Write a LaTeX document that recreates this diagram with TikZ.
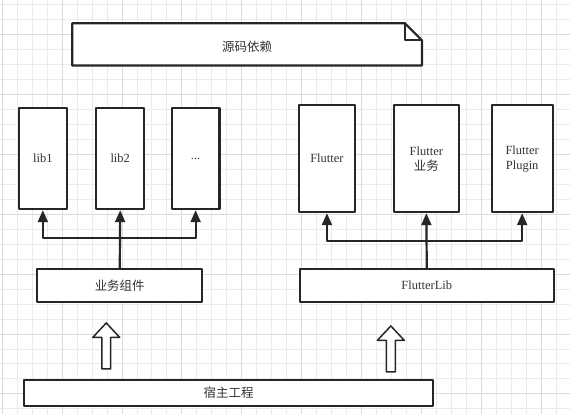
\documentclass[tikz,border=0pt]{standalone}
\usepackage{fontspec}
\setmainfont{Liberation Serif}
\newfontfamily\cjk{Noto Sans CJK SC}
\usetikzlibrary{arrows.meta}

\begin{document}
\begin{tikzpicture}[x=1pt,y=-1pt,line join=round,
    box/.style={draw=black!85,line width=2.2pt,fill=white,inner sep=0pt,
      text=black!80,font=\fontsize{12.5}{15}\selectfont,align=center},
    link/.style={draw=black!85,line width=2.2pt,-{Triangle[length=12pt,width=10pt]}}]
    % background grid
    \fill[white](0,0)rectangle(570,414);
    \foreach \x in {1.7,16.7,...,570}{%
      \draw[black!8,line width=0.8pt](\x,0)--(\x,414);
    }
    \foreach \y in {4,19,...,414}{%
      \draw[black!8,line width=0.8pt](0,\y)--(570,\y);
    }
    \foreach \x in {1.7,61.7,...,570}{%
      \draw[black!14,line width=0.8pt](\x,0)--(\x,414);
    }
    \foreach \y in {34,94,...,414}{%
      \draw[black!14,line width=0.8pt](0,\y)--(570,\y);
    }
    % source dependency note
    \node[box,draw=none,fill=none,minimum width=348pt,minimum height=40pt](src)at(247,44){};
    \draw[black!85,line width=2.2pt,fill=white](src.north west)--([xshift=-17pt]src.north east)
      --([yshift=-17pt]src.north east)--(src.south east)--(src.south west)--cycle;
    \draw[black!85,line width=2.2pt]([xshift=-17pt]src.north east)--++(0,17)--([yshift=-17pt]src.north east);
    \node[text=black!80,font=\fontsize{12.5}{15}\selectfont\cjk]at([yshift=-2pt]src){源码依赖};
    % business side
    \begin{scope}[every node/.append style={minimum width=48pt,minimum height=101pt}]
      \node[box](lib1)at(42.5,158.5){lib1};
      \node[box](lib2)at(120,158.5){lib2};
      \node[box](libn)at(195.5,158.5){...};
    \end{scope}
    \node[box,minimum width=165pt,minimum height=33pt,font=\fontsize{12.5}{15}\selectfont\cjk](biz)at(119.5,285.5){业务组件};
    \coordinate(bizj)at(biz.north|-0,238);
    \draw[link](biz.north)--(lib2.south);
    \foreach \n in {lib1,libn}{%
      \draw[link](bizj)-|(\n.south);
    }
    % flutter side
    \begin{scope}[every node/.append style={minimum height=107pt}]
      \node[box,minimum width=56pt](flt)at(327,158.5){Flutter};
      \node[box,minimum width=65pt](fltbiz)at(426.5,158.5){Flutter\\{\cjk 业务}};
      \node[box,minimum width=61pt](fltplug)at(522.5,158.5){Flutter\\Plugin};
    \end{scope}
    \node[box,minimum width=254pt,minimum height=33pt](fltlib)at(427,285.5){FlutterLib};
    \coordinate(fltj)at(fltlib.north|-0,241);
    \draw[link](fltlib.north)--(fltbiz.south);
    \foreach \n in {flt,fltplug}{%
      \draw[link](fltj)-|(\n.south);
    }
    % host project
    \node[box,minimum width=409pt,minimum height=26pt,font=\fontsize{12.5}{15}\selectfont\cjk](host)at(228.5,393){宿主工程};
    \foreach \x/\y in {106/323,391/326}{%
      \draw[black!85,line width=1.5pt,fill=white](\x,\y)--++(13.5,14.5)--++(-9,0)--++(0,31.5)
        --++(-9,0)--++(0,-31.5)--++(-9,0)--cycle;
    }
\end{tikzpicture}
\end{document}
